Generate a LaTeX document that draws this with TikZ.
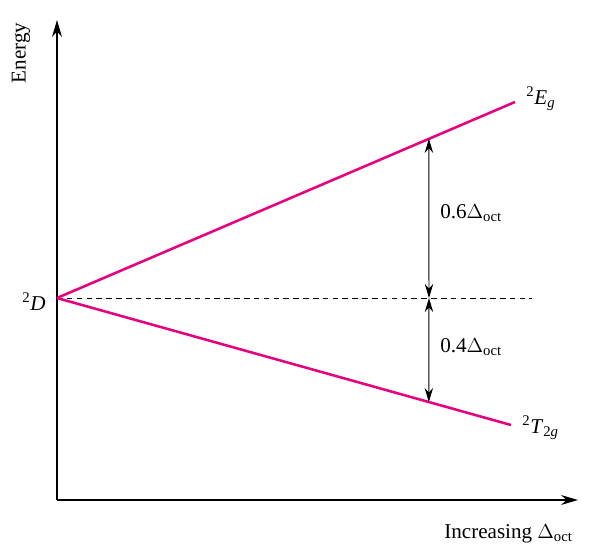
\documentclass[tikz,border=0pt]{standalone}
\usepackage{fontspec}
\setmainfont{Liberation Serif}
\usetikzlibrary{arrows.meta,calc,positioning}
\definecolor{levelmagenta}{RGB}{230,0,126}
\tikzset{
  axis/.style={line width=1.4pt,-{Stealth[length=12pt,width=7pt]}},
  level/.style={levelmagenta,line width=1.8pt},
  gap/.style={line width=0.7pt,{Stealth[length=10pt,width=6pt]}-{Stealth[length=10pt,width=6pt]}},
  lbl/.style={font=\fontsize{15}{18}\selectfont,inner sep=0pt}
}
\begin{document}
\begin{tikzpicture}[x=0.025cm,y=-0.025cm]
\useasboundingbox (0,0) rectangle (606,554);
% axes
\coordinate (O) at (57,500);
\coordinate (ytop) at (57,20);
\coordinate (xend) at (578,500);
\draw[axis] (O) -- (ytop);
\draw[axis] (O) -- (xend);
\node[lbl,rotate=90] (energy) at (21,53) {Energy};
\node[lbl,anchor=base east] (incr) at (573,538) {Increasing $\Delta$\textsubscript{oct}};
% free ion term and split levels
\coordinate (D) at (57,298);
\coordinate (Eg) at (515,102);
\coordinate (Tg) at (511,425);
\coordinate (dashend) at (532,298);
\draw[dashed,dash pattern=on 4pt off 3pt,line width=0.5pt] (D) -- (dashend);
\draw[level] (D) -- (Eg);
\draw[level] (D) -- (Tg);
\node[lbl,anchor=base east] (Dlab) at (46,310) {\textsuperscript{2}\textit{D}};
\node[lbl,anchor=base west] (Eglab) at (526,104) {\textsuperscript{2}\textit{E}\textsubscript{\textit{g}}};
\node[lbl,anchor=base west] (Tglab) at (522,433) {\textsuperscript{2}\textit{T}\textsubscript{2\textit{g}}};
% splitting arrows
\coordinate (mid) at (429,298);
\coordinate (up) at ($(D)!0.812!(Eg)$);
\coordinate (down) at ($(D)!0.819!(Tg)$);
\draw[gap] (up) -- (mid);
\draw[gap] (down) -- (mid);
\node[lbl,anchor=base west] (six) at (440,218) {0.6$\Delta$\textsubscript{oct}};
\node[lbl,anchor=base west] (four) at (440,352) {0.4$\Delta$\textsubscript{oct}};
\end{tikzpicture}
\end{document}
